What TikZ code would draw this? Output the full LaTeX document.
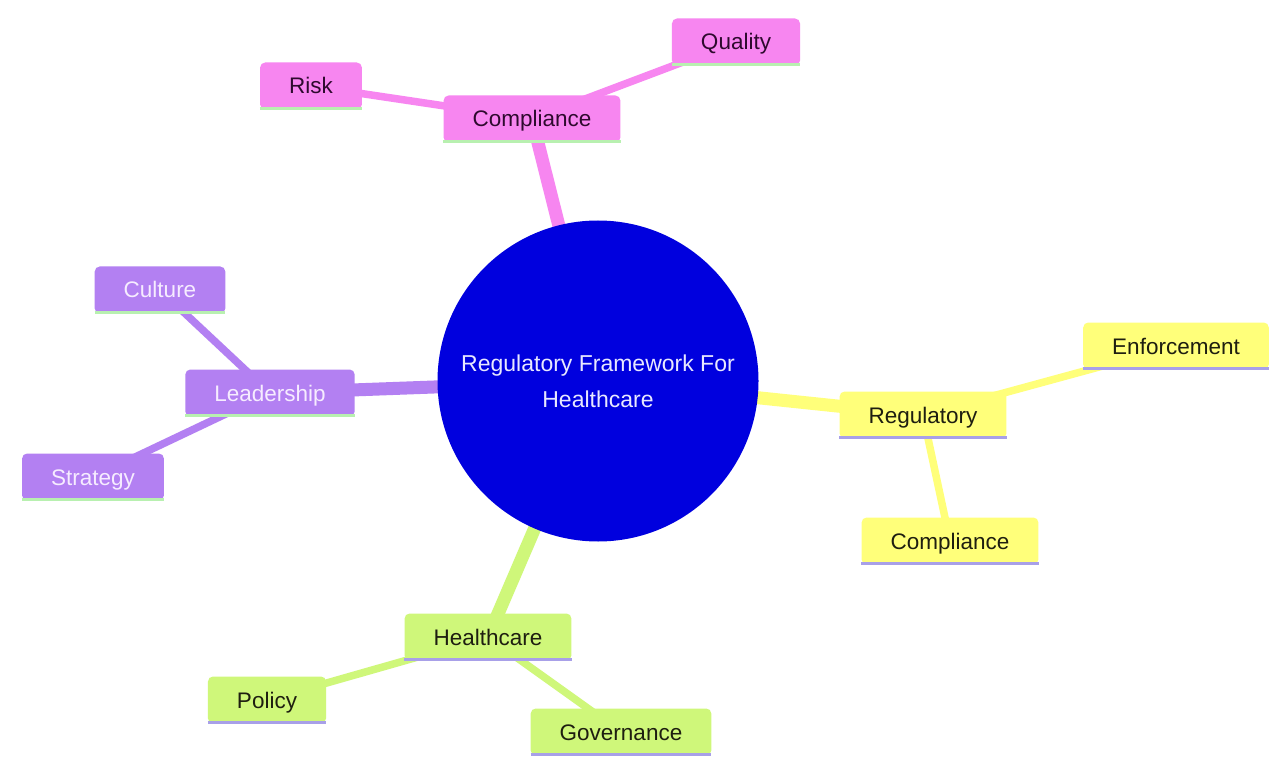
\documentclass[tikz,border=0pt]{standalone}
\usepackage{fontspec}
\setmainfont{Liberation Sans}
\usetikzlibrary{backgrounds}
\definecolor{cblue}{RGB}{0,0,222}
\definecolor{ctext}{HTML}{E8E8FF}
\definecolor{pinkc}{HTML}{F786F0}
\definecolor{pinktext}{HTML}{2E0A2E}
\definecolor{purpc}{HTML}{B380F2}
\definecolor{purptext}{HTML}{F6ECFF}
\definecolor{yelc}{HTML}{FFFF7A}
\definecolor{greenc}{HTML}{CFF77A}
\definecolor{darktext}{HTML}{1E1E10}
\definecolor{lgreen}{HTML}{B8F0B0}
\definecolor{lav}{HTML}{A8A0E8}
\begin{document}
\begin{tikzpicture}[x=1pt,y=-1pt,
  box/.style={rectangle, rounded corners=5pt, minimum height=47pt, inner xsep=29pt, inner ysep=0pt,
    text height=20pt, text depth=4pt, font=\fontsize{22.5}{27}\selectfont},
  pinkbox/.style={box, fill=pinkc, text=pinktext},
  purpbox/.style={box, fill=purpc, text=purptext},
  yelbox/.style={box, fill=yelc, text=darktext},
  greenbox/.style={box, fill=greenc, text=darktext},
  rootedge/.style={line width=13pt},
  kidedge/.style={line width=7.5pt},
  uline/.style={line width=3pt}]
\useasboundingbox (0,0) rectangle (1274,767);

% root
\node[circle, fill=cblue, minimum size=321pt, inner sep=0pt, text=ctext, align=center,
  font=\fontsize{23}{36}\selectfont] (root) at (598,381) {Regulatory Framework For\\Healthcare};

% pink branch
\node[pinkbox] (comp) at (532,119) {Compliance};
\node[pinkbox] (risk) at (311,86) {Risk};
\node[pinkbox] (qual) at (736,42) {Quality};
% purple branch
\node[purpbox] (lead) at (270,393) {Leadership};
\node[purpbox] (cult) at (160,290) {Culture};
\node[purpbox] (strat) at (93,477) {Strategy};
% yellow branch
\node[yelbox] (reg) at (923,415) {Regulatory};
\node[yelbox] (enf) at (1176,346) {Enforcement};
\node[yelbox] (comp2) at (950,541) {Compliance};
% green branch
\node[greenbox] (hc) at (488,637) {Healthcare};
\node[greenbox] (pol) at (267,700) {Policy};
\node[greenbox] (gov) at (621,732) {Governance};

% underlines
\foreach \n in {comp,risk,qual,lead,cult,strat}
  \draw[uline, lgreen] ([yshift=1pt]\n.south west) -- ([yshift=1pt]\n.south east);
\foreach \n in {reg,enf,comp2,hc,pol,gov}
  \draw[uline, lav] ([yshift=1pt]\n.south west) -- ([yshift=1pt]\n.south east);

\begin{scope}[on background layer]
  \fill[white] (0,0) rectangle (1274,767);
  \draw[rootedge, pinkc] (root.center) -- (comp.center);
  \draw[kidedge, pinkc] (comp.center) -- (risk.center);
  \draw[kidedge, pinkc] (comp.center) -- (qual.center);
  \draw[rootedge, purpc] (root.center) -- (lead.center);
  \draw[kidedge, purpc] (lead.center) -- (cult.center);
  \draw[kidedge, purpc] (lead.center) -- (strat.center);
  \draw[rootedge, yelc] (root.center) -- (reg.center);
  \draw[kidedge, yelc] (reg.center) -- (enf.center);
  \draw[kidedge, yelc] (reg.center) -- (comp2.center);
  \draw[rootedge, greenc] (root.center) -- (hc.center);
  \draw[kidedge, greenc] (hc.center) -- (pol.center);
  \draw[kidedge, greenc] (hc.center) -- (gov.center);
\end{scope}
\end{tikzpicture}
\end{document}
